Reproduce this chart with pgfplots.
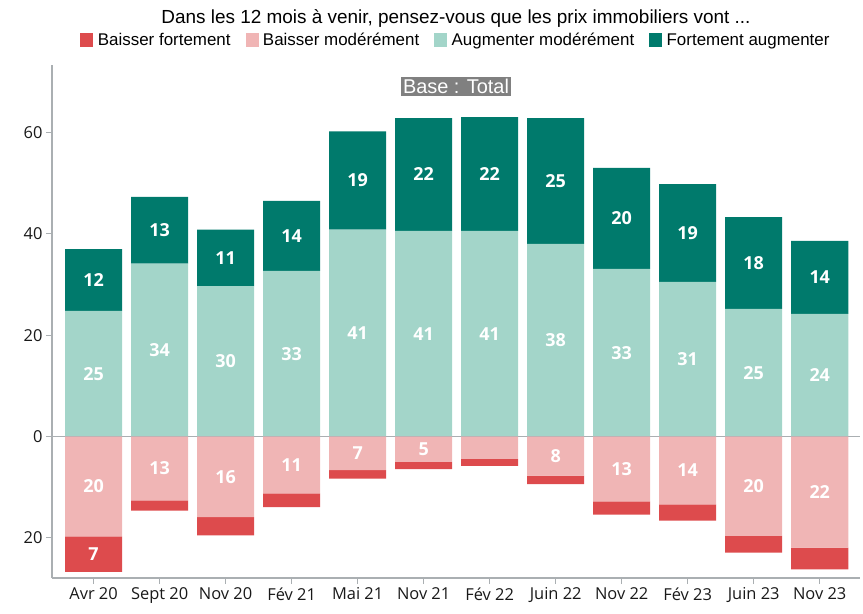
\documentclass[border=0pt]{standalone}
\usepackage{pgfplots}
\pgfplotsset{compat=1.18}
\usepackage{pgfplotstable}
\usepackage{fontspec}
\setmainfont{Open Sans}
\newfontfamily\narrowfont{Liberation Sans}
\definecolor{bfort}{RGB}{221,75,77}
\definecolor{bmod}{RGB}{240,181,181}
\definecolor{amod}{RGB}{163,213,201}
\definecolor{afort}{RGB}{0,122,108}
\definecolor{axgray}{RGB}{170,175,178}
\definecolor{basegray}{RGB}{128,128,128}

\pgfplotstableread{
x md mdl st stl
0 24.8 25 12.2 12
1 34.1 34 13.2 13
2 29.7 30 11.1 11
3 32.7 33 13.8 14
4 40.8 41 19.4 19
5 40.6 41 22.2 22
6 40.6 41 22.4 22
7 38.0 38 24.8 25
8 33.1 33 19.9 20
9 30.5 31 19.3 19
10 25.2 25 18.1 18
11 24.2 24 14.4 14
}\pos

\pgfplotstableread{
x pk pkl rd rdl
0 -19.7 20 -7.0 7
1 -12.6 13 -2.0 {}
2 -15.9 16 -3.6 {}
3 -11.2 11 -2.7 {}
4 -6.6 7 -1.7 {}
5 -5.0 5 -1.4 {}
6 -4.4 {} -1.4 {}
7 -7.7 8 -1.7 {}
8 -12.8 13 -2.6 {}
9 -13.4 14 -3.2 {}
10 -19.6 20 -3.3 {}
11 -21.9 22 -4.3 {}
}\negt

\pgfplotsset{
  commonax/.style={
    scale only axis, width=808bp, height=513bp,
    xmin=-0.63, xmax=11.61, ymin=-27.9, ymax=73.3,
    ybar stacked, bar width=0.864,
    point meta=explicit symbolic,
    nodes near coords={\pgfplotspointmeta},
    every node near coord/.append style={font=\fontsize{18}{21}\selectfont\bfseries, text=white, anchor=center},
  },
}

\begin{document}
\begin{tikzpicture}
\begin{axis}[commonax, clip=false,
  axis x line*=bottom, axis y line*=left,
  axis line style={axgray, line width=1.2bp},
  tick style={axgray, line width=1bp},
  major tick length=6bp, tick align=outside,
  xtick={0,...,11},
  xticklabels={Avr 20, Sept 20, Nov 20, Fév 21, Mai 21, Nov 21, Fév 22, Juin 22, Nov 22, Fév 23, Juin 23, Nov 23},
  ytick={-20,0,20,40,60}, yticklabels={20,0,20,40,60},
  tick label style={font=\fontsize{16.5}{19}\selectfont, text=black!90},
  /pgf/number format/assume math mode=true,
  legend columns=4,
  legend style={draw=none, fill=none, at={(0.5,1)}, anchor=center, yshift=25bp,
    font=\narrowfont\fontsize{17}{20}\selectfont,
    /tikz/every odd column/.append style={column sep=3bp},
    /tikz/every even column/.append style={column sep=13bp}},
]
\addplot[fill=amod, draw=none, forget plot] table[x=x, y=md, meta=mdl]{\pos};
\addplot[fill=afort, draw=none, forget plot] table[x=x, y=st, meta=stl]{\pos};
\addlegendimage{legend image code/.code={\fill[bfort] (0bp,-6.5bp) rectangle (12bp,6.5bp);}}
\addlegendentry{Baisser fortement}
\addlegendimage{legend image code/.code={\fill[bmod] (0bp,-6.5bp) rectangle (12bp,6.5bp);}}
\addlegendentry{Baisser modérément}
\addlegendimage{legend image code/.code={\fill[amod] (0bp,-6.5bp) rectangle (12bp,6.5bp);}}
\addlegendentry{Augmenter modérément}
\addlegendimage{legend image code/.code={\fill[afort] (0bp,-6.5bp) rectangle (12bp,6.5bp);}}
\addlegendentry{Fortement augmenter}
\node[font=\narrowfont\fontsize{19}{22}\selectfont] at (rel axis cs:0.5,1) [yshift=46bp] {Dans les 12 mois à venir, pensez-vous que les prix immobiliers vont ...};
\node[fill=basegray, text=white, font=\narrowfont\fontsize{20}{23}\selectfont, inner xsep=2bp, inner ysep=2.5bp] at (rel axis cs:0.5,0.958) {Base : Total};
\coordinate (o) at (rel axis cs:0,0);
\end{axis}
\begin{axis}[commonax, hide axis]
\addplot[fill=bmod, draw=none] table[x=x, y=pk, meta=pkl]{\negt};
\addplot[fill=bfort, draw=none] table[x=x, y=rd, meta=rdl]{\negt};
\draw[axgray, line width=1.2bp] ({rel axis cs:0,0} |- {axis cs:0,0}) -- ({rel axis cs:1,0} |- {axis cs:0,0});
\end{axis}
\path (o) ++(-52bp,-36bp) rectangle ++(863bp,614bp);
\end{tikzpicture}
\end{document}
